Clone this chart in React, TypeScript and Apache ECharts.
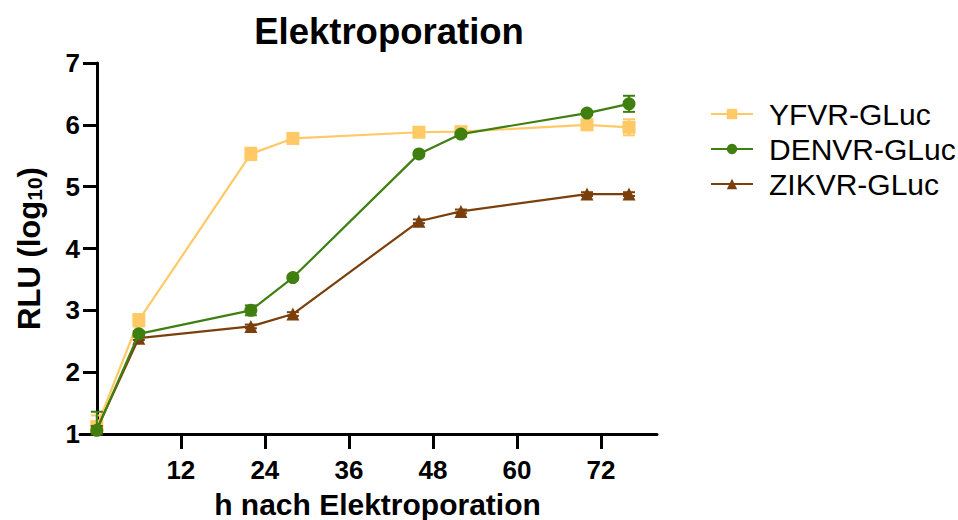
import React, { useEffect, useRef } from "react";
import * as echarts from "echarts";

const hours = [0, 6, 22, 28, 46, 52, 70, 76];
const yfvr = [1.12, 2.84, 5.53, 5.78, 5.88, 5.89, 6.0, 5.96];
const yfvrErr = [0.18, 0.1, 0.1, 0.03, 0.03, 0.03, 0.04, 0.13];
const denvr = [1.06, 2.62, 3.0, 3.53, 5.53, 5.85, 6.19, 6.34];
const denvrErr = [0.3, 0.04, 0.08, 0.03, 0.03, 0.03, 0.03, 0.13];
const zikvr = [1.08, 2.55, 2.74, 2.94, 4.44, 4.6, 4.88, 4.88];
const zikvrErr = [0.05, 0.03, 0.03, 0.03, 0.03, 0.03, 0.03, 0.03];
const xTicks = [12, 24, 36, 48, 60, 72];

const seriesNames = ["YFVR-GLuc", "DENVR-GLuc", "ZIKVR-GLuc"];
const colors = ["#FFCA66", "#3F7F0F", "#7B3F0C"];
const FONT = "'Liberation Sans', Arial, Helvetica, sans-serif";

function pairs(vals: number[]) {
  return hours.map((h, i) => [h, vals[i]]);
}

function errSeries(name: string, vals: number[], errs: number[], color: string, z: number) {
  return {
    type: "custom",
    name: name + "-err",
    z,
    clip: true,
    data: hours.map((h, i) => [h, vals[i] - errs[i], vals[i] + errs[i]]),
    encode: { x: 0, y: [1, 2] },
    renderItem: (params: any, api: any) => {
      const x = api.value(0);
      const lo = api.coord([x, api.value(1)]);
      const hi = api.coord([x, api.value(2)]);
      const w = 6;
      const st = { stroke: color, lineWidth: 2 };
      return {
        type: "group",
        children: [
          { type: "line", shape: { x1: lo[0], y1: lo[1], x2: hi[0], y2: hi[1] }, style: st },
          { type: "line", shape: { x1: lo[0] - w, y1: lo[1], x2: lo[0] + w, y2: lo[1] }, style: st },
          { type: "line", shape: { x1: hi[0] - w, y1: hi[1], x2: hi[0] + w, y2: hi[1] }, style: st },
        ],
      };
    },
  };
}

function lineSeries(name: string, vals: number[], color: string, symbol: string, z: number) {
  return {
    type: "line",
    name,
    z,
    data: pairs(vals),
    symbol,
    symbolSize: 13,
    showAllSymbol: true,
    lineStyle: { color, width: 2.2 },
    itemStyle: { color, borderWidth: 0 },
  };
}

export default function App() {
  const ref = useRef<HTMLDivElement>(null);
  useEffect(() => {
    document.body.style.margin = "0";
    const chart = echarts.init(ref.current!, null, { renderer: "svg" });
    chart.setOption({
      animation: false,
      backgroundColor: "#ffffff",
      textStyle: { fontFamily: FONT },
      title: {
        text: "Elektroporation",
        left: 384,
        top: 8,
        textAlign: "center",
        textStyle: { fontFamily: FONT, fontSize: 36.5, fontWeight: "bold", color: "#000" },
      },
      legend: {
        data: seriesNames.map((n) => ({ name: n })),
        orient: "vertical",
        left: 705,
        top: 94,
        itemWidth: 42,
        itemHeight: 13,
        itemGap: 5,
        textStyle: {
          fontFamily: FONT,
          fontSize: 30,
          color: "#000",
          lineHeight: 30,
          padding: [0, 0, 0, 11],
        },
      },
      grid: { left: 80, right: 301, top: 63, bottom: 86, containLabel: false, outerBoundsMode: "none" },
      xAxis: {
        type: "value",
        min: -2.4,
        max: 80,
        name: "h nach Elektroporation",
        nameLocation: "middle",
        nameGap: 55,
        nameTextStyle: { fontFamily: FONT, fontSize: 30, fontWeight: "bold", color: "#000", padding: [0, 0, 0, 18] },
        axisLine: { show: true, onZero: false, lineStyle: { color: "#000", width: 3 } },
        axisTick: { show: true, length: 15, customValues: xTicks, lineStyle: { color: "#000", width: 3 } },
        axisLabel: {
          customValues: xTicks,
          margin: 23,
          fontFamily: FONT,
          fontSize: 26,
          fontWeight: "bold",
          color: "#000",
        },
        splitLine: { show: false },
      },
      yAxis: {
        type: "value",
        min: 1,
        max: 7,
        interval: 1,
        offset: -17,
        name: "RLU (log{sub|10})",
        nameLocation: "middle",
        nameGap: 52,
        nameTextStyle: {
          fontFamily: FONT,
          fontSize: 31,
          fontWeight: "bold",
          color: "#000",
          rich: {
            sub: { fontFamily: FONT, fontSize: 21, fontWeight: "bold", color: "#000", verticalAlign: "bottom", lineHeight: 18, padding: [16, 0, 0, 0] },
          },
        },
        axisLine: { show: true, onZero: false, lineStyle: { color: "#000", width: 3 } },
        axisTick: { show: true, length: 14, lineStyle: { color: "#000", width: 3 } },
        axisLabel: { margin: 17, fontFamily: FONT, fontSize: 26, fontWeight: "bold", color: "#000" },
        splitLine: { show: false },
      },
      series: [
        errSeries(seriesNames[0], yfvr, yfvrErr, colors[0], 2),
        lineSeries(seriesNames[0], yfvr, colors[0], "rect", 2),
        errSeries(seriesNames[2], zikvr, zikvrErr, colors[2], 3),
        lineSeries(seriesNames[2], zikvr, colors[2], "triangle", 3),
        errSeries(seriesNames[1], denvr, denvrErr, colors[1], 4),
        lineSeries(seriesNames[1], denvr, colors[1], "circle", 4),
      ],
    });
    return () => chart.dispose();
  }, []);
  return <div ref={ref} style={{ width: 958, height: 520 }} />;
}
